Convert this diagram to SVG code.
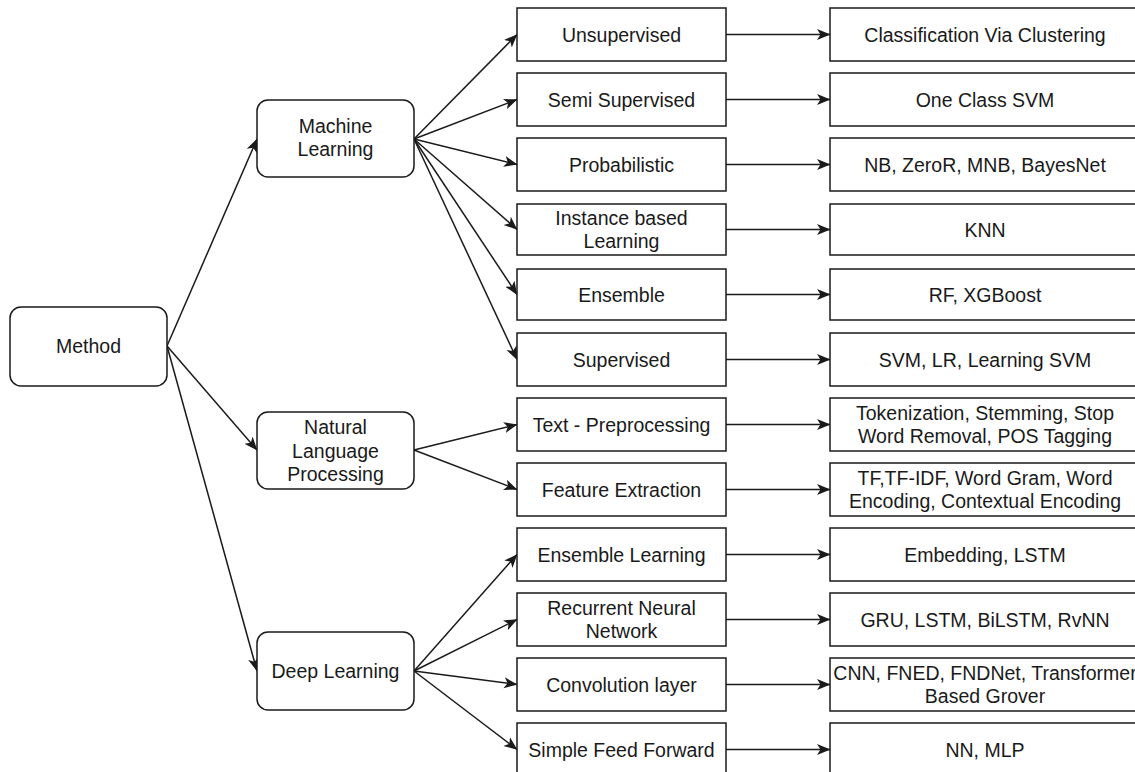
<svg xmlns="http://www.w3.org/2000/svg" width="1135" height="772" viewBox="0 0 1135 772">
<defs>
<style>
.n{fill:#fff;stroke:#1a1a1a;stroke-width:1.5}
.t{font-family:"Liberation Sans",Arial,sans-serif;font-size:19.5px;fill:#1a1a1a;text-anchor:middle}
.c{fill:none;stroke:#1a1a1a;stroke-width:1.5;marker-end:url(#ah)}
</style>
<marker id="ah" markerUnits="userSpaceOnUse" markerWidth="15" markerHeight="12" refX="13" refY="6" orient="auto" viewBox="0 0 15 12">
<path d="M0,0.5 L13.5,6 L0,11.5 L3.5,6 Z" fill="#1a1a1a"/>
</marker>
</defs>
<rect width="1135" height="772" fill="#fff"/>
<g id="connectors">
<line class="c" x1="167" y1="346" x2="257" y2="139"/>
<line class="c" x1="167" y1="346" x2="257" y2="450"/>
<line class="c" x1="167" y1="346" x2="257" y2="671"/>
<line class="c" x1="414" y1="139" x2="517" y2="34.5"/>
<line class="c" x1="414" y1="139" x2="517" y2="99.5"/>
<line class="c" x1="414" y1="139" x2="517" y2="164.5"/>
<line class="c" x1="414" y1="139" x2="517" y2="229.5"/>
<line class="c" x1="414" y1="139" x2="517" y2="294.5"/>
<line class="c" x1="414" y1="139" x2="517" y2="359.5"/>
<line class="c" x1="414" y1="450" x2="517" y2="424.5"/>
<line class="c" x1="414" y1="450" x2="517" y2="489.5"/>
<line class="c" x1="414" y1="671" x2="517" y2="554.5"/>
<line class="c" x1="414" y1="671" x2="517" y2="619.5"/>
<line class="c" x1="414" y1="671" x2="517" y2="684.5"/>
<line class="c" x1="414" y1="671" x2="517" y2="749.5"/>
<line class="c" x1="726" y1="34.5" x2="830" y2="34.5"/>
<line class="c" x1="726" y1="99.5" x2="830" y2="99.5"/>
<line class="c" x1="726" y1="164.5" x2="830" y2="164.5"/>
<line class="c" x1="726" y1="229.5" x2="830" y2="229.5"/>
<line class="c" x1="726" y1="294.5" x2="830" y2="294.5"/>
<line class="c" x1="726" y1="359.5" x2="830" y2="359.5"/>
<line class="c" x1="726" y1="424.5" x2="830" y2="424.5"/>
<line class="c" x1="726" y1="489.5" x2="830" y2="489.5"/>
<line class="c" x1="726" y1="554.5" x2="830" y2="554.5"/>
<line class="c" x1="726" y1="619.5" x2="830" y2="619.5"/>
<line class="c" x1="726" y1="684.5" x2="830" y2="684.5"/>
<line class="c" x1="726" y1="749.5" x2="830" y2="749.5"/>
</g>
<g id="method"><rect class="n" x="10" y="307" width="157" height="79" rx="11"/><text class="t" x="88.5" y="353">Method</text></g>
<g id="ml"><rect class="n" x="257" y="100" width="157" height="77" rx="11"/><text class="t" x="335.5" y="133">Machine</text><text class="t" x="335.5" y="156">Learning</text></g>
<g id="nlp"><rect class="n" x="257" y="412" width="157" height="77" rx="11"/><text class="t" x="335.5" y="434">Natural</text><text class="t" x="335.5" y="457.5">Language</text><text class="t" x="335.5" y="481">Processing</text></g>
<g id="dl"><rect class="n" x="257" y="632" width="157" height="78" rx="11"/><text class="t" x="335.5" y="678">Deep Learning</text></g>

<g id="unsup"><rect class="n" x="517" y="8" width="209" height="53"/><text class="t" x="621.5" y="41.5">Unsupervised</text></g>
<g id="semi"><rect class="n" x="517" y="73" width="209" height="53"/><text class="t" x="621.5" y="106.5">Semi Supervised</text></g>
<g id="prob"><rect class="n" x="517" y="138" width="209" height="53"/><text class="t" x="621.5" y="171.5">Probabilistic</text></g>
<g id="inst"><rect class="n" x="517" y="204" width="209" height="51"/><text class="t" x="621.5" y="224.5">Instance based</text><text class="t" x="621.5" y="248">Learning</text></g>
<g id="ens"><rect class="n" x="517" y="269" width="209" height="51"/><text class="t" x="621.5" y="301.5">Ensemble</text></g>
<g id="sup"><rect class="n" x="517" y="333" width="209" height="53"/><text class="t" x="621.5" y="366.5">Supervised</text></g>
<g id="textpre"><rect class="n" x="517" y="398" width="209" height="53"/><text class="t" x="621.5" y="431.5">Text - Preprocessing</text></g>
<g id="feat"><rect class="n" x="517" y="463" width="209" height="53"/><text class="t" x="621.5" y="496.5">Feature Extraction</text></g>
<g id="enslearn"><rect class="n" x="517" y="528" width="209" height="53"/><text class="t" x="621.5" y="561.5">Ensemble Learning</text></g>
<g id="rnn"><rect class="n" x="517" y="593" width="209" height="53"/><text class="t" x="621.5" y="614.5">Recurrent Neural</text><text class="t" x="621.5" y="638">Network</text></g>
<g id="conv"><rect class="n" x="517" y="658" width="209" height="53"/><text class="t" x="621.5" y="691.5">Convolution layer</text></g>
<g id="sff"><rect class="n" x="517" y="723" width="209" height="53"/><text class="t" x="621.5" y="756.5">Simple Feed Forward</text></g>

<g id="r1"><rect class="n" x="830" y="8" width="312" height="53"/><text class="t" x="985" y="41.5">Classification Via Clustering</text></g>
<g id="r2"><rect class="n" x="830" y="73" width="312" height="53"/><text class="t" x="985" y="106.5">One Class SVM</text></g>
<g id="r3"><rect class="n" x="830" y="138" width="312" height="53"/><text class="t" x="985" y="171.5">NB, ZeroR, MNB, BayesNet</text></g>
<g id="r4"><rect class="n" x="830" y="204" width="312" height="51"/><text class="t" x="985" y="236.5">KNN</text></g>
<g id="r5"><rect class="n" x="830" y="269" width="312" height="51"/><text class="t" x="985" y="301.5">RF, XGBoost</text></g>
<g id="r6"><rect class="n" x="830" y="333" width="312" height="53"/><text class="t" x="985" y="366.5">SVM, LR, Learning SVM</text></g>
<g id="r7"><rect class="n" x="830" y="398" width="312" height="53"/><text class="t" x="985" y="419.5">Tokenization, Stemming, Stop</text><text class="t" x="985" y="443">Word Removal, POS Tagging</text></g>
<g id="r8"><rect class="n" x="830" y="463" width="312" height="53"/><text class="t" x="985" y="484.5">TF,TF-IDF, Word Gram, Word</text><text class="t" x="985" y="508">Encoding, Contextual Encoding</text></g>
<g id="r9"><rect class="n" x="830" y="528" width="312" height="53"/><text class="t" x="985" y="561.5">Embedding, LSTM</text></g>
<g id="r10"><rect class="n" x="830" y="593" width="312" height="53"/><text class="t" x="985" y="626.5">GRU, LSTM, BiLSTM, RvNN</text></g>
<g id="r11"><rect class="n" x="830" y="658" width="312" height="53"/><text class="t" x="985" y="679.5">CNN, FNED, FNDNet, Transformer</text><text class="t" x="985" y="703">Based Grover</text></g>
<g id="r12"><rect class="n" x="830" y="723" width="312" height="53"/><text class="t" x="985" y="756.5">NN, MLP</text></g>
</svg>
